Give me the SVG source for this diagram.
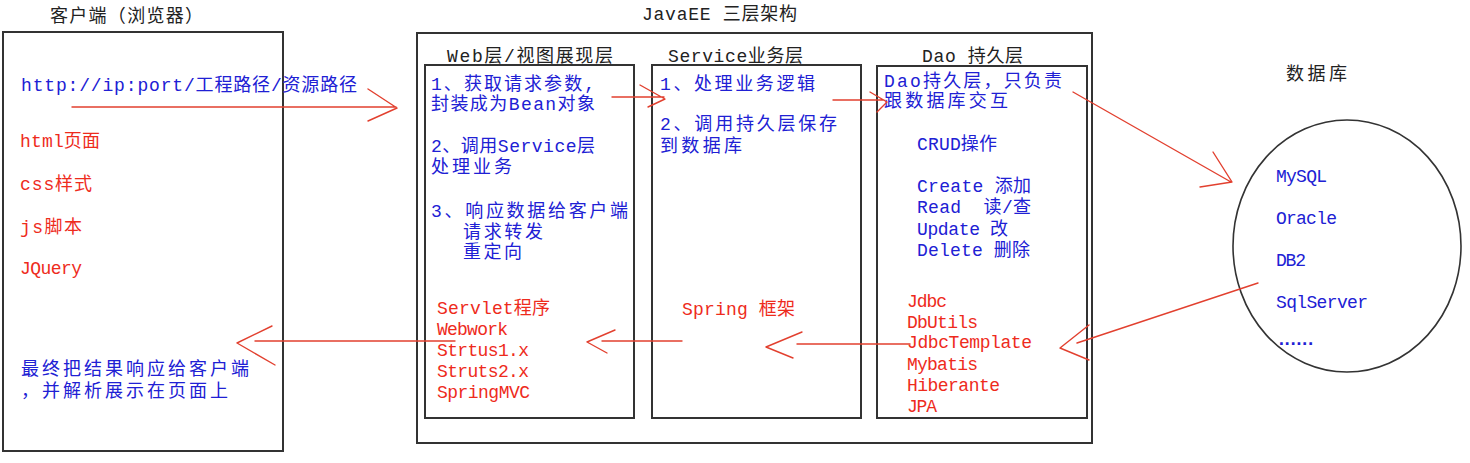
<svg xmlns="http://www.w3.org/2000/svg" width="1470" height="463" viewBox="0 0 1470 463">
<style>
text{font-family:"Liberation Mono","Noto Sans CJK SC",monospace;font-size:18px}
.t{fill:#222}
.b{fill:#2020d4}
.r{fill:#ee2b1c}
.box{fill:none;stroke:#333;stroke-width:2}
.ar{fill:none;stroke:#e2402f;stroke-width:1.4;stroke-linecap:round;stroke-linejoin:round}
</style>
<rect width="1470" height="463" fill="#fff"/>

<g id="client">
<text class="t" x="50" y="22" textLength="153">客户端（浏览器）</text>
<rect class="box" x="3" y="32" width="280" height="419"/>
<text class="b" x="21" y="91" textLength="336">http://ip:port/工程路径/资源路径</text>
<text class="r" x="20" y="147" textLength="80">html页面</text>
<text class="r" x="20" y="190" textLength="72">css样式</text>
<text class="r" x="20" y="233" textLength="62">js脚本</text>
<text class="r" x="20" y="274" textLength="62">JQuery</text>
<text class="b" x="21" y="375" textLength="228">最终把结果响应给客户端</text>
<text class="b" x="21" y="397" textLength="207">，并解析展示在页面上</text>
</g>

<g id="javaee">
<text class="t" x="642" y="20" textLength="155">JavaEE 三层架构</text>
<rect class="box" x="417" y="33" width="675" height="410"/>
</g>

<g id="web">
<text class="t" x="447" y="62" textLength="166">Web层/视图展现层</text>
<rect class="box" x="425" y="65" width="209" height="353"/>
<text class="b" x="431" y="90" textLength="164">1、获取请求参数,</text>
<text class="b" x="431" y="110" textLength="164">封装成为Bean对象</text>
<text class="b" x="431" y="152" textLength="164">2、调用Service层</text>
<text class="b" x="431" y="173" textLength="81">处理业务</text>
<text class="b" x="431" y="217" textLength="197">3、响应数据给客户端</text>
<text class="b" x="463" y="238" textLength="80">请求转发</text>
<text class="b" x="463" y="258" textLength="59">重定向</text>
<text class="r" x="437" y="314" textLength="113">Servlet程序</text>
<text class="r" x="437" y="335" textLength="71">Webwork</text>
<text class="r" x="437" y="356" textLength="92">Strtus1.x</text>
<text class="r" x="437" y="377" textLength="92">Struts2.x</text>
<text class="r" x="437" y="398" textLength="93">SpringMVC</text>
</g>

<g id="service">
<text class="t" x="668" y="62" textLength="135">Service业务层</text>
<rect class="box" x="652" y="65" width="209" height="353"/>
<text class="b" x="660" y="90" textLength="155">1、处理业务逻辑</text>
<text class="b" x="660" y="130" textLength="177">2、调用持久层保存</text>
<text class="b" x="660" y="152" textLength="82">到数据库</text>
<text class="r" x="682" y="315" textLength="113">Spring 框架</text>
</g>

<g id="dao">
<text class="t" x="922" y="62" textLength="101">Dao 持久层</text>
<rect class="box" x="877" y="66" width="210" height="352"/>
<text class="b" x="884" y="87" textLength="178">Dao持久层，只负责</text>
<text class="b" x="884" y="107" textLength="124">跟数据库交互</text>
<text class="b" x="917" y="150" textLength="80">CRUD操作</text>
<text class="b" x="917" y="192" textLength="114">Create 添加</text>
<text class="b" x="917" y="213" textLength="114" xml:space="preserve">Read  读/查</text>
<text class="b" x="917" y="235" textLength="91">Update 改</text>
<text class="b" x="917" y="256" textLength="113">Delete 删除</text>
<text class="r" x="907" y="307" textLength="40">Jdbc</text>
<text class="r" x="907" y="328" textLength="71">DbUtils</text>
<text class="r" x="907" y="348" textLength="125">JdbcTemplate</text>
<text class="r" x="907" y="370" textLength="71">Mybatis</text>
<text class="r" x="907" y="391" textLength="93">Hiberante</text>
<text class="r" x="907" y="412" textLength="30">JPA</text>
</g>

<g id="database">
<text class="t" x="1286" y="80" textLength="61">数据库</text>
<ellipse cx="1347" cy="246" rx="114" ry="126" fill="none" stroke="#333" stroke-width="1.6"/>
<text class="b" x="1276" y="182" textLength="51">MySQL</text>
<text class="b" x="1276" y="224" textLength="61">Oracle</text>
<text class="b" x="1276" y="266" textLength="30">DB2</text>
<text class="b" x="1276" y="308" textLength="92">SqlServer</text>
<text class="b" x="1276" y="345" textLength="40" font-weight="bold">......</text>
</g>

<g id="connectors">
<path class="ar" d="M72 107H396M368 89L397 108L368 121"/>
<path class="ar" d="M612 97H664M640 85L665 99L648 107"/>
<path class="ar" d="M833 100H884M870 92L887 102L877 112"/>
<path class="ar" d="M1073 92L1231 182M1213 152L1232 182L1200 187"/>
<path class="ar" d="M1258 283L1077 343M1089 325L1060 348L1089 360"/>
<path class="ar" d="M910 344H797M802 332L766 347L793 358"/>
<path class="ar" d="M682 341H602M615 330L587 342L607 353"/>
<path class="ar" d="M455 341H255M272 326L237 343L275 365"/>
</g>
</svg>
